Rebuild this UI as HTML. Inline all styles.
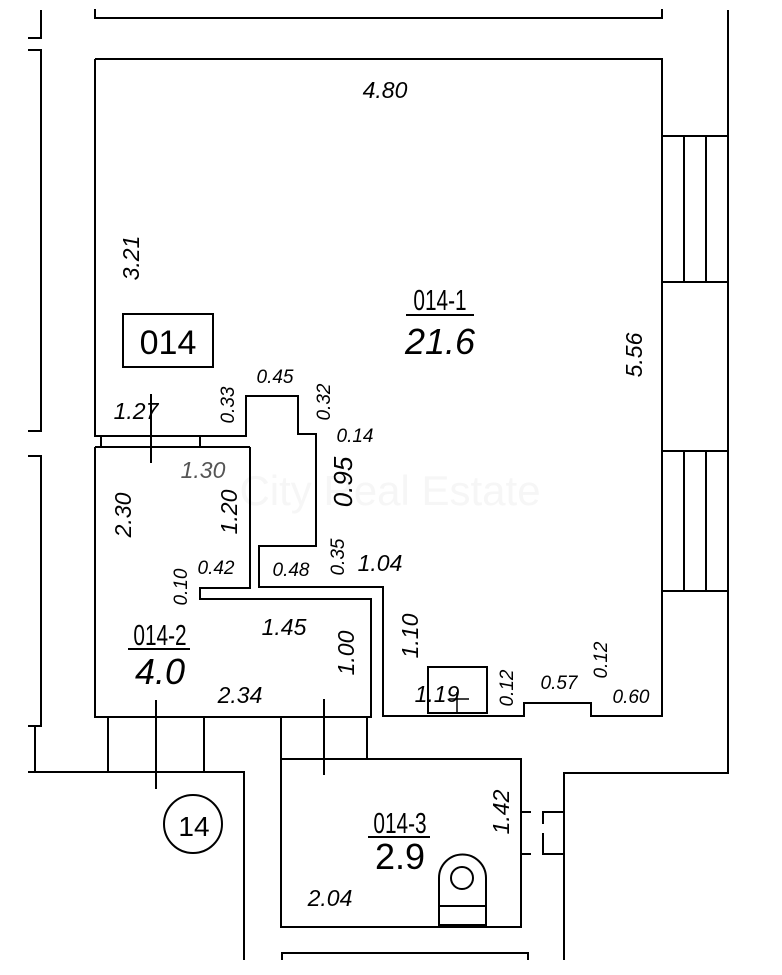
<!DOCTYPE html>
<html><head><meta charset="utf-8"><style>
html,body{margin:0;padding:0;background:#fff;}
svg{display:block;}
text{font-family:"Liberation Sans",sans-serif;fill:#000;}
.d{font-style:italic;font-size:23px;}
.s{font-style:italic;font-size:19px;}
</style></head><body>
<svg width="782" height="975" viewBox="0 0 782 975" xmlns="http://www.w3.org/2000/svg">
<text x="390" y="505" font-size="42" style="fill:#f6f6f6" text-anchor="middle">City Real Estate</text>
<g fill="none" stroke="#000" stroke-width="2">
<polyline points="95,9 95,18 662,18 662,9"/>
<polyline points="41,10 41,38 28,38"/>
<polyline points="28,50 41,50 41,431 28,431"/>
<polyline points="28,456 41,456 41,726 28,726"/>
<polyline points="35,726 35,772"/>
<polyline points="28,772 244,772 244,960"/>
<polyline points="728,10 728,773 564,773 564,960"/>
<rect x="662" y="136" width="66" height="146"/>
<line x1="684" y1="136" x2="684" y2="282"/><line x1="706" y1="136" x2="706" y2="282"/>
<rect x="662" y="451" width="66" height="140"/>
<line x1="684" y1="451" x2="684" y2="591"/><line x1="706" y1="451" x2="706" y2="591"/>
<polyline points="95,59 662,59 662,716 591,716 591,703 524,703 524,716 383,716 383,587 259,587 259,546 316,546 316,434 298,434 298,396 246,396 246,436 95,436 95,59"/>
<line x1="95" y1="447" x2="250" y2="447"/>
<line x1="101" y1="436" x2="101" y2="447"/>
<line x1="200" y1="436" x2="200" y2="447"/>
<polyline points="95,447 95,717 371,717 371,599 200,599 200,588 250,588 250,447"/>
<line x1="108" y1="717" x2="108" y2="772"/>
<line x1="204" y1="717" x2="204" y2="772"/>
<line x1="156" y1="700" x2="156" y2="789"/>
<circle cx="193" cy="824" r="29"/>
<line x1="151" y1="394" x2="151" y2="463"/>
<line x1="281" y1="717" x2="281" y2="759"/>
<line x1="367" y1="717" x2="367" y2="759"/>
<rect x="281" y="759" width="240" height="168"/>
<line x1="324" y1="699" x2="324" y2="775"/>
<line x1="521" y1="812" x2="531" y2="812"/>
<line x1="521" y1="854" x2="531" y2="854"/>
<polyline points="564,812 543,812 543,824"/>
<polyline points="543,833 543,854 564,854"/>
<polyline points="282,960 282,953 528,953 528,960"/>
<rect x="428" y="667" width="59" height="46"/>
<line x1="449" y1="699" x2="469" y2="699" stroke-width="1.5"/>
<line x1="457" y1="692" x2="457" y2="713" stroke-width="1.5"/>
<path d="M439,925 L439,878 A23,23 0 0 1 486,878 L486,925 Z"/>
<line x1="439" y1="906" x2="486" y2="906"/>
<circle cx="462" cy="878" r="11"/>
<rect x="123" y="314" width="90" height="53"/>
</g>
<text class="d" x="385" y="98" text-anchor="middle">4.80</text>
<text class="d" transform="translate(139,258) rotate(-90)" text-anchor="middle">3.21</text>
<text x="168" y="354" font-size="34" text-anchor="middle">014</text>
<text font-size="26" text-anchor="middle" transform="translate(440,310) scale(0.8,1.1)">014-1</text>
<line x1="406" y1="315" x2="474" y2="315" stroke="#000" stroke-width="2"/>
<text x="440" y="354" font-size="36" font-style="italic" text-anchor="middle">21.6</text>
<text class="d" transform="translate(642,355) rotate(-90)" text-anchor="middle">5.56</text>
<text class="s" x="275" y="383" text-anchor="middle">0.45</text>
<text class="s" transform="translate(234,405) rotate(-90)" text-anchor="middle">0.33</text>
<text class="s" transform="translate(330,402) rotate(-90)" text-anchor="middle">0.32</text>
<text class="s" x="355" y="442" text-anchor="middle">0.14</text>
<text class="d" x="136" y="419" text-anchor="middle">1.27</text>
<text class="d" x="203" y="478" text-anchor="middle" style="fill:#555">1.30</text>
<text font-size="26" font-style="italic" transform="translate(352,482) rotate(-90)" text-anchor="middle">0.95</text>
<text class="d" transform="translate(131,515) rotate(-90)" text-anchor="middle">2.30</text>
<text class="d" transform="translate(237,512) rotate(-90)" text-anchor="middle">1.20</text>
<text class="s" transform="translate(344,557) rotate(-90)" text-anchor="middle">0.35</text>
<text class="d" x="380" y="571" text-anchor="middle">1.04</text>
<text class="s" x="291" y="576" text-anchor="middle">0.48</text>
<text class="s" x="216" y="574" text-anchor="middle">0.42</text>
<text class="s" transform="translate(187,587) rotate(-90)" text-anchor="middle">0.10</text>
<text class="d" x="284" y="635" text-anchor="middle">1.45</text>
<text class="d" transform="translate(354,653) rotate(-90)" text-anchor="middle">1.00</text>
<text class="d" transform="translate(418,636) rotate(-90)" text-anchor="middle">1.10</text>
<text font-size="26" text-anchor="middle" transform="translate(160,645) scale(0.8,1.1)">014-2</text>
<line x1="128" y1="649" x2="190" y2="649" stroke="#000" stroke-width="2"/>
<text x="160" y="684" font-size="36" font-style="italic" text-anchor="middle">4.0</text>
<text class="d" x="240" y="703" text-anchor="middle">2.34</text>
<text class="d" x="437" y="702" text-anchor="middle">1.19</text>
<text class="s" transform="translate(513,688) rotate(-90)" text-anchor="middle">0.12</text>
<text class="s" x="559" y="689" text-anchor="middle">0.57</text>
<text class="s" transform="translate(607,660) rotate(-90)" text-anchor="middle">0.12</text>
<text class="s" x="631" y="703" text-anchor="middle">0.60</text>
<text font-size="26" text-anchor="middle" transform="translate(400,833) scale(0.8,1.1)">014-3</text>
<line x1="368" y1="837" x2="430" y2="837" stroke="#000" stroke-width="2"/>
<text x="400" y="869" font-size="36" text-anchor="middle">2.9</text>
<text class="d" transform="translate(509,812) rotate(-90)" text-anchor="middle">1.42</text>
<text class="d" x="330" y="906" text-anchor="middle">2.04</text>
<text x="194" y="836" font-size="28" text-anchor="middle">14</text>
</svg>
</body></html>
